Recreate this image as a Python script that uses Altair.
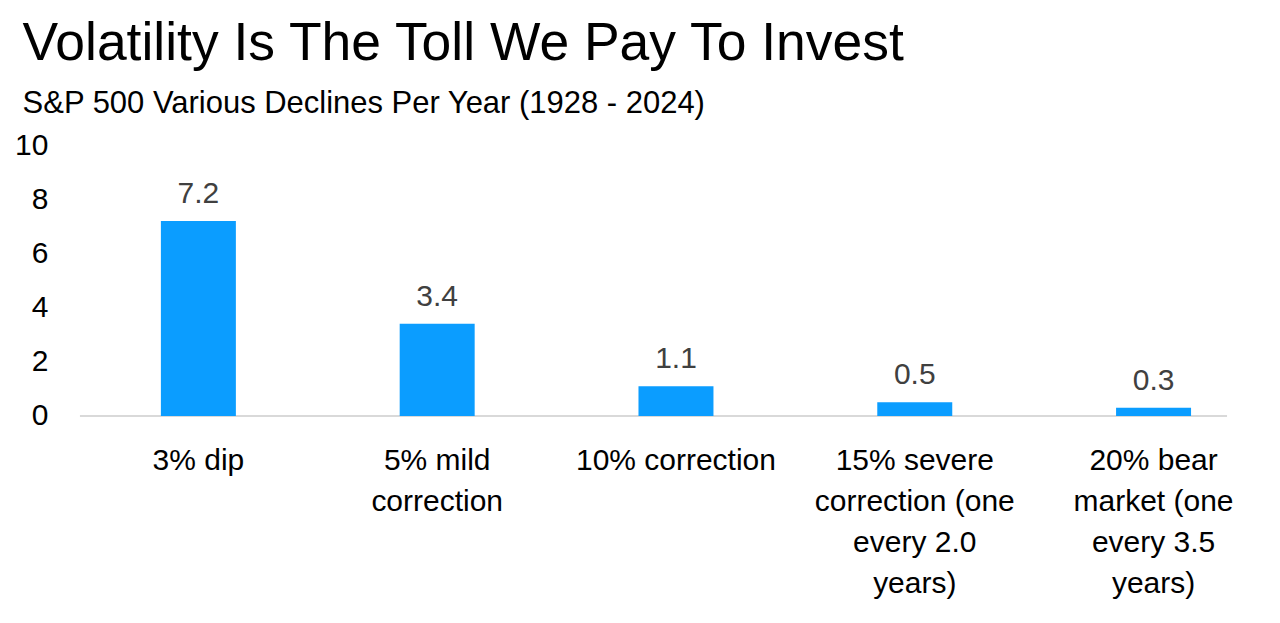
import altair as alt
import pandas as pd

categories = [
    "3% dip",
    "5% mild\ncorrection",
    "10% correction",
    "15% severe\ncorrection (one\nevery 2.0\nyears)",
    "20% bear\nmarket (one\nevery 3.5\nyears)",
]
values = [7.2, 3.4, 1.1, 0.5, 0.3]
value_labels = ["7.2", "3.4", "1.1", "0.5", "0.3"]
y_ticks = [0, 2, 4, 6, 8, 10]

df = pd.DataFrame({"category": categories, "value": values, "label": value_labels})

FONT = "Liberation Sans"
BAR = "#0B9DFF"

x_enc = alt.X(
    "category:N",
    sort=categories,
    title=None,
    scale=alt.Scale(paddingInner=0.686, paddingOuter=0.339),
    axis=alt.Axis(
        labelAngle=0,
        labelExpr="split(datum.label, '\\n')",
        labelFont=FONT,
        labelFontSize=30,
        labelColor="#000000",
        labelLineHeight=41,
        labelBaseline="top",
        labelPadding=30,
        labelLimit=400,
        ticks=False,
        domain=False,
        grid=False,
    ),
)
y_enc = alt.Y(
    "value:Q",
    title=None,
    scale=alt.Scale(domain=[0, 10], nice=False),
    axis=alt.Axis(
        values=y_ticks,
        labelFont=FONT,
        labelFontSize=30,
        labelColor="#000000",
        labelPadding=32,
        ticks=False,
        domain=False,
        grid=False,
    ),
)

bars = alt.Chart(df).mark_bar(color=BAR).encode(x=x_enc, y=y_enc)

texts = alt.Chart(df).mark_text(
    baseline="bottom", dy=-12, font=FONT, fontSize=30, color="#404040"
).encode(x=alt.X("category:N", sort=categories), y="value:Q", text="label:N")

base = alt.Chart(pd.DataFrame({"v": [0]})).mark_rule(color="#D9D9D9", strokeWidth=2).encode(
    y=alt.Y("v:Q"), x=alt.value(0), x2=alt.value(1148)
)

chart = alt.layer(base, bars, texts).properties(
    width=1193,
    height=271,
    autosize=alt.AutoSizeParams(type="none"),
    padding={"left": 72, "top": 137, "right": 0, "bottom": 190},
    title=alt.Title(
        "Volatility Is The Toll We Pay To Invest",
        subtitle="S&P 500 Various Declines Per Year (1928 - 2024)",
        anchor="start",
        align="left",
        dx=8,
        offset=10,
        font=FONT,
        fontSize=53.5,
        fontWeight="normal",
        color="#000000",
        subtitleFont=FONT,
        subtitleFontSize=31,
        subtitleColor="#000000",
        subtitlePadding=18,
    ),
).configure_view(stroke=None)

chart.save("out.html", embed_options={"renderer": "svg", "actions": False})
